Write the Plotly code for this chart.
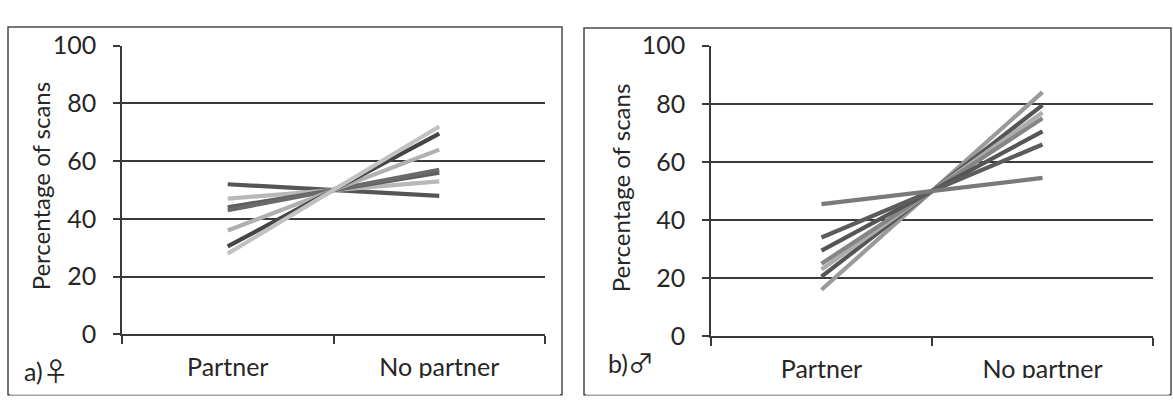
import plotly.graph_objects as go

# Conditions on the x axis
categories = ["Partner", "No partner"]

# Percentage of scans per individual: females (panel a)
female_partner = [52, 47, 44, 43, 36, 30.5, 28]
female_no_partner = [48, 53, 56, 57, 64, 69.5, 72]
female_colors = ["#555555", "#b8b8b8", "#5e5e5e", "#6a6a6a", "#b0b0b0", "#454545", "#c2c2c2"]

# Percentage of scans per individual: males (panel b)
male_partner = [16, 20.5, 23, 25, 29.5, 34, 45.5]
male_no_partner = [84, 79.5, 77, 75, 70.5, 66, 54.5]
male_colors = ["#9a9a9a", "#555555", "#adadad", "#858585", "#555555", "#5c5c5c", "#7a7a7a"]

y_ticks = [0, 20, 40, 60, 80, 100]

W, H = 1173, 404
FONT = "Lato"
FS = 25
TXT = "#262626"
GRID = "#3a3a3a"


def px_x(p):
    return p / W


def px_y(p):
    return (H - p) / H


fig = go.Figure()

for a, b, c in zip(female_partner, female_no_partner, female_colors):
    fig.add_trace(go.Scatter(x=categories, y=[a, b], mode="lines",
                             line=dict(color=c, width=4.2),
                             xaxis="x", yaxis="y", showlegend=False))

for a, b, c in zip(male_partner, male_no_partner, male_colors):
    fig.add_trace(go.Scatter(x=categories, y=[a, b], mode="lines",
                             line=dict(color=c, width=4.2),
                             xaxis="x2", yaxis="y2", showlegend=False))

xcommon = dict(
    type="category", range=[-0.5, 1.5], tickson="boundaries",
    ticks="outside", ticklen=8, tickwidth=1.5, tickcolor=GRID,
    showline=True, linecolor=GRID, linewidth=1.5, showgrid=False,
    tickfont=dict(family=FONT, size=FS, color=TXT),
    ticklabelstandoff=10, fixedrange=True,
)
ycommon = dict(
    range=[0, 100], tickvals=y_ticks, ticks="outside", ticklen=7,
    tickwidth=1.5, tickcolor=GRID, showline=True, linecolor=GRID,
    linewidth=1.5, showgrid=True, gridcolor=GRID, gridwidth=1.6,
    zeroline=False, tickfont=dict(family=FONT, size=FS, color=TXT),
    ticklabelstandoff=12, fixedrange=True,
)

fig.update_layout(
    width=W, height=H,
    margin=dict(l=0, r=0, t=0, b=0),
    paper_bgcolor="white", plot_bgcolor="white",
    xaxis=dict(domain=[px_x(122), px_x(545)], anchor="y", **xcommon),
    yaxis=dict(domain=[px_y(344), px_y(32)], anchor="x", **ycommon),
    xaxis2=dict(domain=[px_x(711), px_x(1153)], anchor="y2", **xcommon),
    yaxis2=dict(domain=[px_y(346), px_y(32)], anchor="x2", **ycommon),
)

# Axis titles and panel labels
for xc, yc in [(40, 184), (620, 186)]:
    fig.add_annotation(text="Percentage of scans", textangle=-90,
                       x=px_x(xc), y=px_y(yc), xanchor="center", yanchor="middle",
                       xref="paper", yref="paper", showarrow=False,
                       font=dict(family=FONT, size=FS - 1, color=TXT))

sym = "<span style='font-family:Noto Sans CJK JP;font-size:26px'>{}</span>"
fig.add_annotation(text="a)" + sym.format("♀"), x=px_x(22), y=px_y(382),
                   xref="paper", yref="paper", xanchor="left", yanchor="middle",
                   showarrow=False, font=dict(family=FONT, size=FS, color=TXT))
fig.add_annotation(text="b)" + sym.format("♂"), x=px_x(606), y=px_y(373),
                   xref="paper", yref="paper", xanchor="left", yanchor="middle",
                   showarrow=False, font=dict(family=FONT, size=FS, color=TXT))

# Panel frames
for x0, x1, y0 in [(8, 562, 12), (584, 1171, 13)]:
    fig.add_shape(type="rect", xref="paper", yref="paper",
                  x0=px_x(x0), x1=px_x(x1), y0=px_y(H + 5), y1=px_y(y0),
                  line=dict(color="#4a4a4a", width=1.5), fillcolor="rgba(0,0,0,0)")
    # bottom strip where the panel is cut off
    fig.add_shape(type="rect", xref="paper", yref="paper", layer="above",
                  x0=px_x(x0 + 2), x1=px_x(x1 - 2), y0=px_y(H + 5), y1=px_y(391),
                  line=dict(width=0), fillcolor="white")

fig.write_html("out.html")
